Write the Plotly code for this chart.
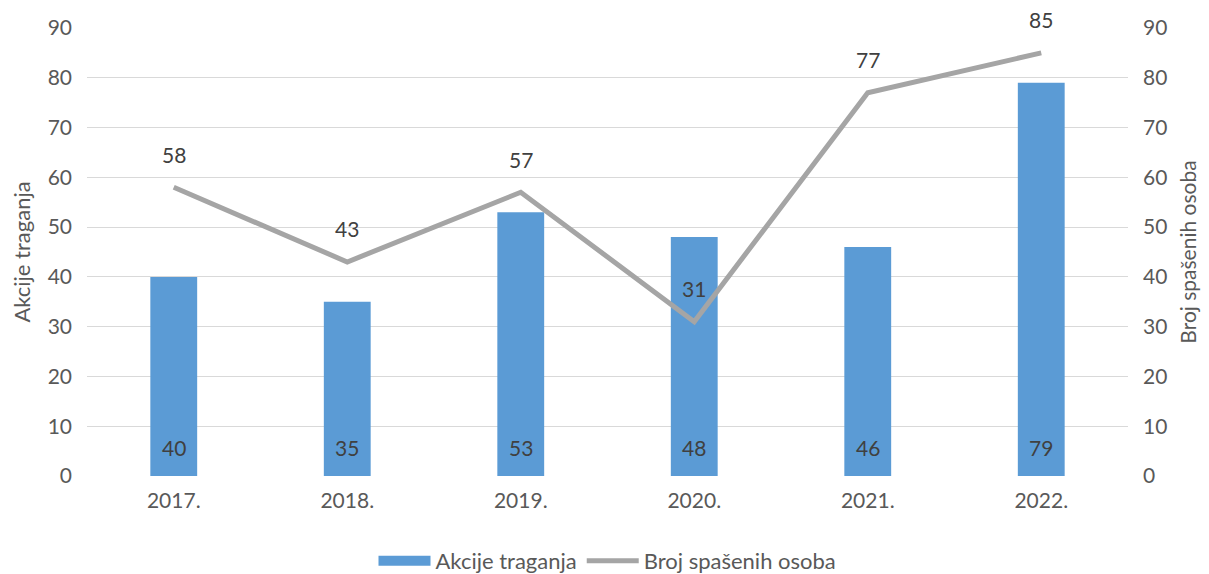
import plotly.graph_objects as go

years = ["2017.", "2018.", "2019.", "2020.", "2021.", "2022."]
akcije = [40, 35, 53, 48, 46, 79]
spaseni = [58, 43, 57, 31, 77, 85]
tick_vals = [0, 10, 20, 30, 40, 50, 60, 70, 80, 90]

FONT = "Lato, Open Sans, sans-serif"
TXT = "#595959"
LBL = "#404040"
BLUE = "#5B9BD5"
GREY = "#A5A5A5"

xs = list(range(len(years)))

fig = go.Figure()
fig.add_trace(go.Bar(
    x=xs, y=akcije, name="Akcije traganja",
    marker=dict(color=BLUE, line=dict(width=0)),
    width=0.27, showlegend=False,
))
fig.add_trace(go.Scatter(
    x=xs, y=spaseni, name="Broj spašenih osoba", yaxis="y2",
    mode="lines", line=dict(color=GREY, width=5), showlegend=False,
))
# legend entries
fig.add_trace(go.Scatter(
    x=[-10], y=[-10], name="Akcije traganja", mode="lines",
    line=dict(color=BLUE, width=16), showlegend=True,
))
fig.add_trace(go.Scatter(
    x=[-10], y=[-10], name="Broj spašenih osoba", mode="lines",
    line=dict(color=GREY, width=5), showlegend=True,
))
for x, v in zip(xs, akcije):
    fig.add_annotation(x=x, y=0, text=str(v), showarrow=False, yanchor="middle",
                       yshift=29, font=dict(size=21, color=LBL, family=FONT))
for x, v in zip(xs, spaseni):
    fig.add_annotation(x=x, y=v, yref="y2", text=str(v), showarrow=False,
                       yanchor="middle", yshift=33,
                       font=dict(size=21, color=LBL, family=FONT))

fig.update_layout(
    width=1209, height=574,
    margin=dict(l=79, r=89, t=20, b=106, autoexpand=False),
    paper_bgcolor="white", plot_bgcolor="white",
    font=dict(family=FONT, size=21, color=TXT),
    showlegend=True,
    legend=dict(orientation="h", x=0.5, xanchor="center", y=0, yanchor="bottom",
                yref="container", xref="paper", itemwidth=52,
                font=dict(size=22, color=TXT), tracegroupgap=0),
    xaxis=dict(range=[-0.5, 5.5], tickvals=xs, ticktext=years, automargin=False,
               showgrid=False, showline=False, zeroline=False, ticks="",
               ticklabelstandoff=10, tickfont=dict(size=21, color=TXT)),
    yaxis=dict(range=[0, 90], tickvals=tick_vals, showgrid=True, gridcolor="#D9D9D9",
               gridwidth=1, zeroline=False, showline=False, ticks="", automargin=False,
               ticklabelstandoff=14,
               title=dict(text="Akcije traganja", standoff=12, font=dict(size=22, color=TXT)),
               tickfont=dict(size=21, color=TXT)),
    yaxis2=dict(range=[0, 90], tickvals=tick_vals, overlaying="y", side="right",
                showgrid=False, zeroline=False, showline=False, ticks="", automargin=False,
                ticklabelstandoff=14,
                title=dict(text="Broj spašenih osoba", standoff=14, font=dict(size=21, color=TXT)),
                tickfont=dict(size=21, color=TXT)),
)
fig.write_html("out.html")
